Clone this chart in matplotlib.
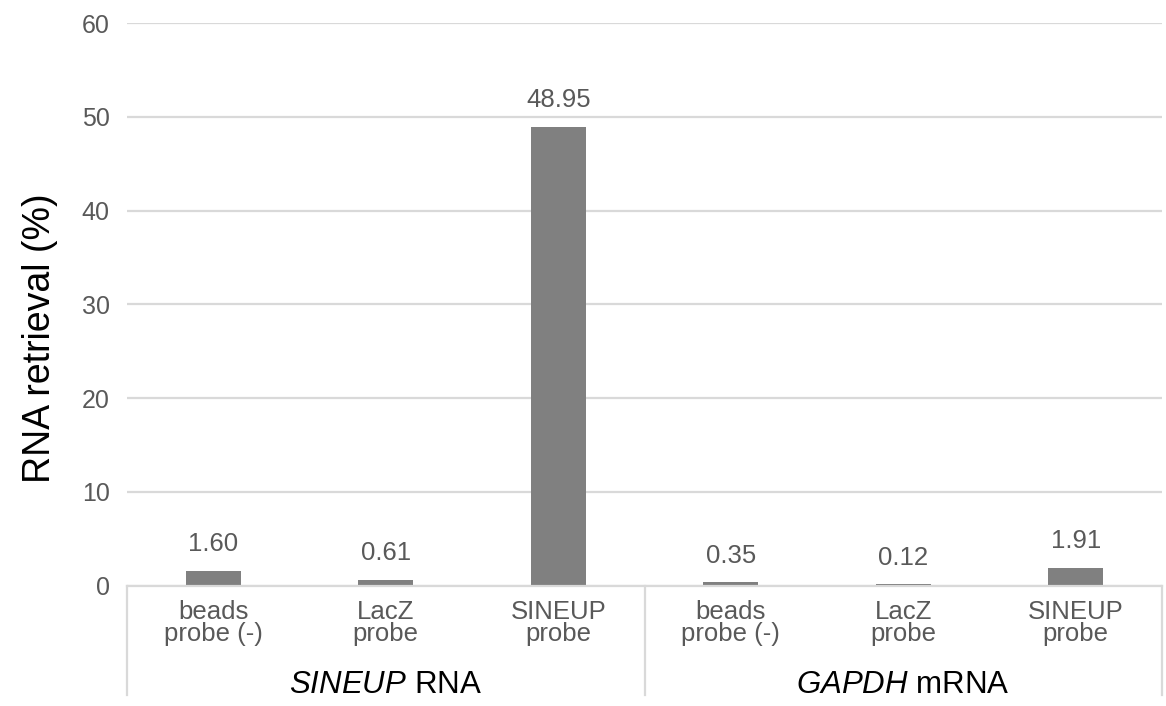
import matplotlib
matplotlib.use("Agg")
import matplotlib.pyplot as plt
import numpy as np

# Retrieval percentages per probe, grouped by target transcript
groups = ["SINEUP", "GAPDH"]
group_suffix = ["RNA", "mRNA"]
probe_labels = ["beads\nprobe (-)", "LacZ\nprobe", "SINEUP\nprobe"]
sineup_values = [1.60, 0.61, 48.95]
gapdh_values = [0.35, 0.12, 1.91]
y_ticks = [0, 10, 20, 30, 40, 50, 60]

plt.rcParams["font.family"] = ["Liberation Sans", "DejaVu Sans"]
plt.rcParams["mathtext.fontset"] = "custom"
plt.rcParams["mathtext.it"] = "Liberation Sans:italic"
plt.rcParams["mathtext.rm"] = "Liberation Sans"

values = sineup_values + gapdh_values
labels = probe_labels * len(groups)
x = np.arange(len(values))

W, H = 1166, 706
y_top, y_zero = 23.3, 585.5
fig = plt.figure(figsize=(W / 100, H / 100), dpi=100)
ax = fig.add_axes([127 / W, 1 - y_zero / H, (1162 - 127) / W, (y_zero - y_top) / H])

grid_color = "#d9d9d9"
tick_color = "#595959"


def below(px):
    """Axes-fraction y for a pixel row below the zero line."""
    return -(px - y_zero) / (y_zero - y_top)


ax.bar(x, values, width=0.32, color="#808080", zorder=3)
for xi, v in zip(x, values):
    ax.annotate(f"{v:.2f}", (xi, v), xytext=(0, 14), textcoords="offset points",
                ha="center", va="baseline", fontsize=18.5, color=tick_color)

ax.set_xlim(-0.5, len(values) - 0.5)
ax.set_ylim(0, 60)
ax.set_yticks(y_ticks)
ax.yaxis.grid(True, color=grid_color, linewidth=1.6, zorder=0)
ax.tick_params(axis="y", length=0, pad=12.5, labelsize=18, labelcolor=tick_color)
ax.set_xticks([])
for s in ["top", "right", "left"]:
    ax.spines[s].set_visible(False)
ax.spines["bottom"].set_color(grid_color)
ax.spines["bottom"].set_linewidth(1.6)
ax.spines["bottom"].set_zorder(4)

# Two-level category axis below the plot
trans = ax.get_xaxis_transform()
for xs in [-0.5, 2.5, 5.5]:
    ax.plot([xs, xs], [0, below(695)], transform=trans, color=grid_color,
            linewidth=1.6, clip_on=False)

for xi, lab in zip(x, labels):
    for line, base in zip(lab.split("\n"), [619, 641]):
        ax.text(xi, below(base), line, transform=trans, ha="center",
                va="baseline", fontsize=18.5, color=tick_color)

for gi, (g, suf) in enumerate(zip(groups, group_suffix)):
    ax.text(gi * 3 + 1, below(693), rf"$\mathit{{{g}}}$ {suf}",
            transform=trans, ha="center", va="baseline", fontsize=22.5, color="black")

fig.text(40 / W, 1 - 338 / H, "RNA retrieval (%)", rotation=90, ha="center",
         va="center", fontsize=27, color="black")

fig.savefig("out.png", dpi=100)
